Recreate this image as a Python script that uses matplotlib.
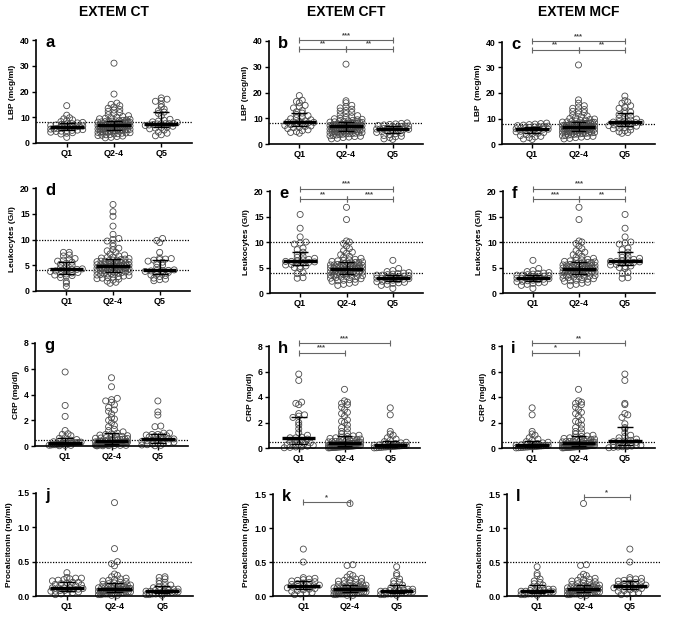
import numpy as np
import matplotlib.pyplot as plt

plt.rcParams['font.family'] = ['Liberation Sans', 'DejaVu Sans']
plt.rcParams['font.weight'] = 'bold'

# -----------------------------------
# DATA
# -----------------------------------

groups = ["Q1", "Q2-4", "Q5"]
columns = ["EXTEM CT", "EXTEM CFT", "EXTEM MCF"]

# LBP (mcg/ml)
lbp_ct_q1 = [2.2, 3.5, 3.8, 4.0, 4.2, 4.5, 4.6, 4.8, 4.9, 5.0, 5.2, 5.4, 5.5, 5.7, 5.9, 6.0, 6.1, 6.2,
             6.2, 6.3, 6.5, 6.6, 6.8, 7.0, 7.2, 7.4, 7.5, 7.8, 8.0, 8.3, 8.6, 9.0, 9.4, 9.8, 10.8, 14.5]
lbp_ct_q5 = [2.8, 3.2, 3.8, 4.2, 5.0, 5.5, 5.8, 6.0, 6.2, 6.5, 6.8, 7.0, 7.2, 7.4, 7.5, 7.5, 7.5,
             7.6, 8.0, 8.2, 8.5, 8.8, 9.2, 10.5, 11.5, 12.0, 12.5, 13.2, 14.0, 15.0, 16.2, 16.5, 17.0, 17.5]
lbp_mid = [2.0, 2.2, 2.5, 2.7, 2.9, 3.0, 3.2, 3.3, 3.5, 3.6, 3.8, 3.9, 4.0, 4.1, 4.2, 4.3, 4.4, 4.5,
           4.6, 4.7, 4.8, 4.9, 5.0, 5.0, 5.1, 5.2, 5.3, 5.4, 5.5, 5.5, 5.6, 5.7, 5.8, 5.9, 6.0, 6.0,
           6.1, 6.2, 6.3, 6.3, 6.4, 6.5, 6.5, 6.6, 6.7, 6.8, 6.8, 6.9, 7.0, 7.0, 7.1, 7.2, 7.2, 7.3,
           7.4, 7.5, 7.5, 7.6, 7.7, 7.8, 7.9, 8.0, 8.0, 8.1, 8.2, 8.3, 8.4, 8.5, 8.6, 8.7, 8.8, 9.0,
           9.2, 9.4, 9.6, 9.8, 10.0, 10.3, 10.6, 11.0, 11.4, 11.8, 12.3, 12.8]
lbp_ct_tail = [13.0, 13.5, 14.0, 14.5, 15.0, 15.5, 19.0, 31.0]
lbp_cft_tail = [13.0, 13.5, 14.0, 14.5, 15.0, 16.0, 16.8, 31.0]
lbp_mcf_tail = [13.0, 13.5, 14.0, 14.5, 15.0, 16.0, 17.3, 31.0]
lbp_high = [4.2, 4.5, 4.8, 5.2, 5.5, 6.0, 6.3, 6.5, 6.8, 7.0, 7.2, 7.5, 7.8, 8.0, 8.2, 8.4, 8.5, 8.6,
            8.8, 9.0, 9.4, 9.8, 10.2, 10.5, 11.0, 11.5, 12.0, 12.5, 13.0, 14.0, 14.5, 15.0, 16.0,
            16.5, 17.0, 18.8]
lbp_low = [1.8, 2.0, 2.5, 2.8, 3.0, 3.3, 3.6, 4.0, 4.2, 4.5, 4.8, 5.0, 5.2, 5.4, 5.6, 5.7, 5.8, 5.8,
           6.0, 6.2, 6.3, 6.5, 6.7, 6.8, 7.0, 7.0, 7.2, 7.4, 7.6, 7.8, 8.0, 8.2]

# Leukocytes (G/l)
leuk_ct_q1 = [0.9, 1.5, 1.8, 2.6, 2.9, 3.0, 3.1, 3.2, 3.3, 3.5, 3.6, 3.8, 3.9, 4.0, 4.1, 4.2, 4.2,
              4.3, 4.5, 4.7, 5.0, 5.2, 5.4, 5.6, 5.8, 6.0, 6.1, 6.3, 6.8, 7.0, 7.5, 7.5]
leuk_ct_q5 = [2.0, 2.2, 2.3, 2.5, 2.8, 3.0, 3.1, 3.3, 3.5, 3.6, 3.8, 3.9, 4.0, 4.0, 4.0, 4.1, 4.6,
              5.0, 5.3, 5.6, 5.8, 6.0, 6.1, 6.2, 6.3, 6.4, 7.5, 9.4, 9.8, 10.2]
leuk_mid = [1.5, 1.7, 1.9, 2.1, 2.3, 2.4, 2.5, 2.6, 2.7, 2.8, 2.9, 3.0, 3.1, 3.2, 3.3, 3.3, 3.4, 3.5,
            3.5, 3.6, 3.7, 3.7, 3.8, 3.9, 4.0, 4.0, 4.1, 4.1, 4.2, 4.2, 4.3, 4.3, 4.4, 4.5, 4.5, 4.6,
            4.6, 4.7, 4.7, 4.8, 4.8, 4.8, 4.9, 4.9, 5.0, 5.0, 5.1, 5.1, 5.2, 5.2, 5.3, 5.4, 5.4, 5.5,
            5.5, 5.6, 5.7, 5.8, 5.8, 5.9, 6.0, 6.0, 6.1, 6.2, 6.3, 6.4, 6.5, 6.6, 6.8, 7.0, 7.2, 7.5,
            7.8, 8.0, 8.3, 8.7, 9.2, 9.7, 10.0]
leuk_ct_tail = [10.2, 11.0, 12.6, 14.5, 15.4, 16.8]
leuk_tail = [10.2, 14.4, 16.8]
leuk_high = [2.9, 3.0, 3.8, 4.0, 4.8, 5.0, 5.2, 5.3, 5.5, 5.6, 5.8, 5.9, 6.0, 6.1, 6.2, 6.2, 6.3,
             6.5, 6.6, 6.8, 7.0, 7.2, 7.5, 8.0, 8.5, 8.8, 9.6, 9.8, 10.0, 11.0, 12.7, 15.4]
leuk_low = [0.9, 1.5, 1.7, 1.9, 2.0, 2.1, 2.2, 2.3, 2.4, 2.5, 2.6, 2.7, 2.8, 2.9, 2.9, 3.0, 3.0, 3.1,
            3.2, 3.3, 3.4, 3.5, 3.5, 3.6, 3.7, 3.8, 3.9, 4.0, 4.2, 4.4, 4.8, 6.4]

# CRP (mg/dl)
crp_ct_q1 = [0.02, 0.04, 0.05, 0.06, 0.08, 0.1, 0.1, 0.12, 0.14, 0.15, 0.17, 0.2, 0.22, 0.24, 0.25,
             0.25, 0.26, 0.28, 0.3, 0.33, 0.36, 0.4, 0.45, 0.5, 0.6, 0.65, 0.8, 0.9, 0.95, 1.2, 2.3,
             3.15, 5.75]
crp_ct_q5 = [0.02, 0.05, 0.08, 0.1, 0.15, 0.2, 0.2, 0.25, 0.3, 0.35, 0.4, 0.45, 0.5, 0.55, 0.55,
             0.55, 0.7, 0.75, 0.8, 0.8, 0.85, 0.9, 0.9, 1.0, 1.0, 1.5, 1.55, 2.4, 2.65, 3.5]
crp_mid = [0.01, 0.02, 0.03, 0.04, 0.05, 0.05, 0.06, 0.07, 0.08, 0.08, 0.09, 0.1, 0.1, 0.11, 0.12,
           0.12, 0.13, 0.14, 0.15, 0.15, 0.16, 0.17, 0.18, 0.19, 0.2, 0.2, 0.21, 0.22, 0.23, 0.24,
           0.25, 0.25, 0.26, 0.27, 0.28, 0.29, 0.3, 0.3, 0.32, 0.33, 0.35, 0.36, 0.38, 0.4, 0.42,
           0.44, 0.46, 0.48, 0.5, 0.52, 0.55, 0.58, 0.6, 0.62, 0.65, 0.68, 0.7, 0.75, 0.8, 0.85, 0.9,
           0.95, 1.0, 1.1, 1.2, 1.3, 1.5, 1.6, 1.8, 2.0, 2.1, 2.2, 2.5, 2.7, 2.8, 3.0, 3.2, 3.4,
           3.5, 3.6]
crp_ct_tail = [3.7, 4.6, 5.3]
crp_tail = [3.7, 4.6]
crp_cft_q1 = [0.02, 0.05, 0.08, 0.1, 0.15, 0.2, 0.25, 0.3, 0.3, 0.35, 0.4, 0.5, 0.55, 0.6, 0.7, 0.8,
              0.8, 0.85, 1.0, 1.2, 1.5, 1.8, 2.0, 2.4, 2.5, 2.6, 2.7, 3.4, 3.5, 3.6, 5.3, 5.8]
crp_mcf_q5 = [0.02, 0.05, 0.08, 0.1, 0.12, 0.15, 0.2, 0.2, 0.25, 0.3, 0.35, 0.4, 0.45, 0.5, 0.55,
              0.55, 0.6, 0.7, 0.8, 0.9, 1.0, 1.2, 1.5, 1.6, 1.9, 2.4, 2.6, 2.7, 3.4, 3.5, 5.3, 5.8]
crp_low = [0.01, 0.02, 0.04, 0.05, 0.07, 0.08, 0.1, 0.1, 0.12, 0.13, 0.15, 0.16, 0.18, 0.2, 0.2,
           0.22, 0.25, 0.28, 0.3, 0.35, 0.4, 0.45, 0.5, 0.6, 0.7, 0.8, 1.0, 1.1, 1.3, 2.6, 3.15]

# Procalcitonin (ng/ml)
pct_ct_q1 = [0.02, 0.03, 0.04, 0.05, 0.06, 0.07, 0.07, 0.08, 0.08, 0.09, 0.1, 0.1, 0.11, 0.12, 0.12,
             0.12, 0.12, 0.15, 0.16, 0.17, 0.18, 0.19, 0.2, 0.2, 0.22, 0.23, 0.24, 0.25, 0.26, 0.26,
             0.27, 0.34]
pct_ct_q5 = [0.01, 0.02, 0.02, 0.03, 0.03, 0.04, 0.04, 0.05, 0.05, 0.05, 0.06, 0.06, 0.07, 0.07,
             0.08, 0.08, 0.08, 0.09, 0.1, 0.1, 0.12, 0.13, 0.15, 0.16, 0.18, 0.2, 0.22, 0.25, 0.27,
             0.28]
pct_mid = [0.01, 0.01, 0.02, 0.02, 0.03, 0.03, 0.03, 0.04, 0.04, 0.04, 0.05, 0.05, 0.05, 0.05, 0.06,
           0.06, 0.06, 0.07, 0.07, 0.07, 0.07, 0.08, 0.08, 0.08, 0.08, 0.09, 0.09, 0.09, 0.1, 0.1,
           0.1, 0.1, 0.11, 0.11, 0.11, 0.12, 0.12, 0.12, 0.13, 0.13, 0.14, 0.14, 0.15, 0.15, 0.16,
           0.16, 0.17, 0.18, 0.19, 0.2, 0.21, 0.22, 0.23, 0.24, 0.25, 0.26, 0.28, 0.3, 0.32]
pct_ct_tail = [0.44, 0.47, 0.5, 0.69, 1.36]
pct_tail = [0.45, 0.46, 1.36]
pct_high = [0.02, 0.03, 0.04, 0.05, 0.07, 0.08, 0.09, 0.1, 0.11, 0.12, 0.13, 0.14, 0.14, 0.15, 0.15,
            0.16, 0.17, 0.18, 0.19, 0.2, 0.21, 0.22, 0.23, 0.24, 0.25, 0.26, 0.27, 0.5, 0.69]
pct_low = [0.01, 0.02, 0.02, 0.03, 0.03, 0.04, 0.04, 0.05, 0.05, 0.06, 0.06, 0.07, 0.07, 0.08, 0.08,
           0.08, 0.09, 0.1, 0.1, 0.12, 0.14, 0.16, 0.18, 0.2, 0.22, 0.25, 0.3, 0.33, 0.43]

# -----------------------------------
# PANEL SETUP
# -----------------------------------

row_info = [
    ("LBP (mcg/ml)", 40, [0, 10, 20, 30, 40], [8], "{:.0f}"),
    ("Leukocytes (G/l)", 20, [0, 5, 10, 15, 20], [4, 10], "{:.0f}"),
    ("CRP (mg/dl)", 8, [0, 2, 4, 6, 8], [0.5], "{:.0f}"),
    ("Procalcitonin (ng/ml)", 1.5, [0, 0.5, 1.0, 1.5], [0.5], "{:.1f}"),
]

panel_data = [
    [[lbp_ct_q1, lbp_mid + lbp_ct_tail, lbp_ct_q5],
     [lbp_high, lbp_mid + lbp_cft_tail, lbp_low],
     [lbp_low, lbp_mid + lbp_mcf_tail, lbp_high]],
    [[leuk_ct_q1, leuk_mid + leuk_ct_tail, leuk_ct_q5],
     [leuk_high, leuk_mid + leuk_tail, leuk_low],
     [leuk_low, leuk_mid + leuk_tail, leuk_high]],
    [[crp_ct_q1, crp_mid + crp_ct_tail, crp_ct_q5],
     [crp_cft_q1, crp_mid + crp_tail, crp_low],
     [crp_low, crp_mid + crp_tail, crp_mcf_q5]],
    [[pct_ct_q1, pct_mid + pct_ct_tail, pct_ct_q5],
     [pct_high, pct_mid + pct_tail, pct_low],
     [pct_low, pct_mid + pct_tail, pct_high]],
]

letters = [["a", "b", "c"], ["d", "e", "f"], ["g", "h", "i"], ["j", "k", "l"]]

# significance brackets: (from group, to group, height, stars)
brackets = {
    "b": [(0, 2, 40.3, "***"), (0, 1, 36.9, "**"), (1, 2, 36.9, "**")],
    "c": [(0, 2, 40.3, "***"), (0, 1, 36.9, "**"), (1, 2, 36.9, "**")],
    "e": [(0, 2, 20.4, "***"), (0, 1, 18.4, "**"), (1, 2, 18.4, "***")],
    "f": [(0, 2, 20.4, "***"), (0, 1, 18.4, "***"), (1, 2, 18.4, "**")],
    "h": [(0, 2, 8.2, "***"), (0, 1, 7.45, "***")],
    "i": [(0, 2, 8.2, "**"), (0, 1, 7.45, "*")],
    "k": [(0, 1, 1.38, "*")],
    "l": [(1, 2, 1.45, "*")],
}

# axes boxes in pixels: left, right, top, bottom
boxes = [
    [(36, 192, 40, 143), (269, 423, 41, 144), (502, 655, 42, 144)],
    [(36, 190, 188, 291), (270, 423, 191, 293), (503, 655, 191, 293)],
    [(35, 188, 343, 446), (269, 420, 346, 448), (502, 655, 346, 448)],
    [(36, 193, 493, 596), (273, 427, 494, 596), (507, 660, 494, 596)],
]

W, H = 685, 617


def swarm_x(ax, vals, center):
    # spread points that share a row, GraphPad style
    vals = np.asarray(vals, float)
    ypx = ax.transData.transform(np.column_stack([np.zeros_like(vals), vals]))[:, 1]
    xscale = ax.transData.transform((1, 0))[0] - ax.transData.transform((0, 0))[0]
    bins = np.round(ypx / 3.4).astype(int)
    xs = np.zeros_like(vals)
    for b in np.unique(bins):
        idx = np.where(bins == b)[0]
        n = len(idx)
        if n == 1:
            continue
        step = min(5.8, 2 * 16.0 / (n - 1))
        offs = (np.arange(n) - (n - 1) / 2) * step
        xs[idx[np.argsort(vals[idx])]] = offs
    return center + xs / xscale


fig = plt.figure(figsize=(W / 100, H / 100), dpi=100)

for c, title in enumerate(columns):
    cx = [(36 + 192) / 2, (269 + 423) / 2, (502 + 655) / 2][c]
    fig.text(cx / W, 1 - 16 / H, title, ha="center", va="baseline", fontsize=10, fontweight="bold")

for r in range(4):
    ylabel, ytop, yticks, refs, fmt = row_info[r]
    for c in range(3):
        L, R, T, B = boxes[r][c]
        ax = fig.add_axes([L / W, 1 - B / H, (R - L) / W, (B - T) / H])
        ax.set_xlim(-0.65, 2.65)
        ax.set_ylim(0, ytop)
        for s in ["top", "right"]:
            ax.spines[s].set_visible(False)
        for s in ["left", "bottom"]:
            ax.spines[s].set_linewidth(1.2)
        ax.set_yticks(yticks)
        ax.set_yticklabels([fmt.format(t) for t in yticks], fontsize=6.2, fontweight="bold")
        ax.set_xticks([0, 1, 2])
        ax.set_xticklabels(groups, fontsize=6.5, fontweight="bold")
        ax.tick_params(length=3, width=1, pad=1.5)
        lab = "LBP  (mcg/ml)" if (r == 0 and c == 2) else ylabel
        ax.set_ylabel(lab, fontsize=6, fontweight="bold", labelpad=3)

        for ref in refs:
            ax.axhline(ref, color="black", lw=0.9, ls=(0, (1, 1.2)), zorder=1)

        for g, vals in enumerate(panel_data[r][c]):
            xs = swarm_x(ax, vals, g)
            ax.scatter(xs, vals, s=19, facecolors="none", edgecolors="#4a4a4a",
                       linewidths=0.6, zorder=2, clip_on=False)
            med = np.median(vals)
            q1, q3 = np.percentile(vals, [25, 75])
            ax.vlines(g, q1, q3, color="black", lw=1.0, zorder=3)
            ax.hlines([q1, q3], g - 0.17, g + 0.17, color="black", lw=1.0, zorder=3)
            ax.hlines(med, g - 0.36, g + 0.36, color="black", lw=2.4, zorder=4)

        letter = letters[r][c]
        ax.text(0.06, 0.935, letter, transform=ax.transAxes, fontsize=12, fontweight="bold",
                va="baseline", ha="left")

        for g1, g2, yb, stars in brackets.get(letter, []):
            ax.plot([g1, g2], [yb, yb], color="#666666", lw=0.8, marker="|", markersize=4,
                    markeredgewidth=0.8, clip_on=False, zorder=5)
            ax.annotate(stars, ((g1 + g2) / 2, yb), xytext=(0, 1), textcoords="offset points",
                        ha="center", va="bottom", fontsize=5.5, color="#444444",
                        annotation_clip=False)

fig.savefig("out.png", dpi=100)
plt.close()
